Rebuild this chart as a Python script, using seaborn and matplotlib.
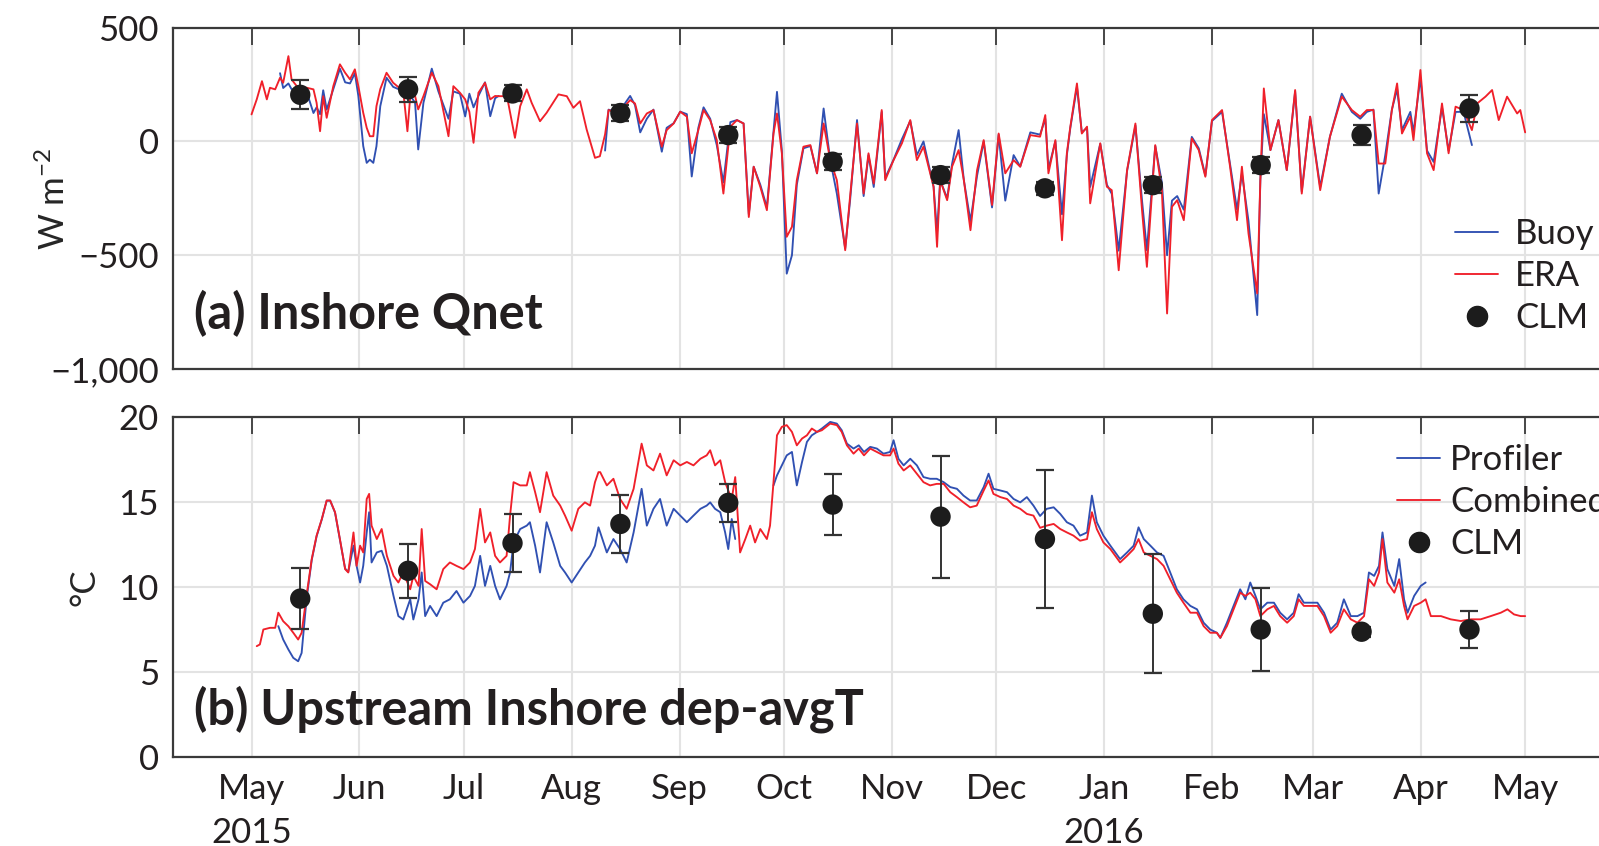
import numpy as np
import pandas as pd
import matplotlib
matplotlib.use("Agg")
import matplotlib.pyplot as plt
from matplotlib.lines import Line2D
import seaborn as sns

# ------------------------------------------------------------------ data
origin = pd.Timestamp("2015-05-01")

# (a) net surface heat flux, days since 2015-05-01
qnet_day = [0, 1.5, 3, 4.4, 5.3, 6.8, 8.2, 9.1, 10.6, 11.5, 13, 15.9, 17.8, 18.7, 19.7, 20.6, 21.6,
            23.5, 25.4, 26.9, 28.3, 29.7, 30.7, 32.1, 33.1, 34, 35, 35.9, 37, 38.8, 40.7, 43.6, 44.8,
            45.7, 47.0, 47.9, 49.4, 51.8, 53.7, 56.6, 58, 59.9, 61.4, 62.6, 63.8, 65.2, 67.1, 68.6,
            70, 71, 72, 73.4, 75.7, 77.2, 79.1, 80.5, 82.9, 84.8, 88.2, 90.6, 92.5, 94.4, 96.3, 98.7,
            100.1, 101.6, 102.6, 105.4, 108.8, 110.2, 111.7, 113.6, 115.5, 117.9, 119.3, 121.3,
            123.2, 125.1, 126.5, 128.4, 129.9, 131.8, 133.7, 135.6, 137.6, 139.5, 141.4, 142.9,
            144.3, 146.2, 148.1, 150.0, 151.0, 152.4, 153.8, 155.3, 156.7, 158.6, 160.6, 162.5,
            164.4, 166.3, 168.2, 170.6, 172.0, 174.0, 175.9, 177.3, 178.8, 181.1, 182.1, 184.5,
            186.9, 189.3, 191.2, 193.1, 196.0, 197.0, 197.9, 199.9, 201.3, 203.2, 204.7, 206.6,
            208.5, 210.4, 212.8, 214.7, 216.6, 219.0, 220.9, 223.8, 226.6, 228.1, 229.0, 231.0,
            232.9, 234.3, 235.3, 237.2, 238.6, 240.1, 241.0, 243.9, 245.8, 247.2, 249.2, 251.6,
            254.0, 255.9, 257.3, 259.7, 261.6, 263.1, 264.5, 266.0, 267.9, 270.2, 272.2, 274.1,
            276.0, 278.9, 281.2, 283.2, 284.6, 286.5, 289.0, 289.9, 290.9, 292.8, 295.1, 297.5,
            299.9, 301.8, 304.2, 307.1, 309.9, 313.3, 316.2, 318.6, 320.5, 322.4, 323.9, 325.8,
            327.7, 329.2, 330.6, 333.0, 333.9, 335.9, 337.8, 339.7, 342.1, 344.0, 346.0, 348.3,
            350.7, 352.2, 354.6, 356.5, 358.4, 360.8, 363.7, 364.6, 366]
qnet_era = [119, 185, 265, 185, 236, 229, 280, 258, 375, 273, 243, 236, 229, 170, 45, 199, 104,
            243, 339, 302, 273, 317, 243, 126, 60, 23, 23, 155, 230, 302, 258, 221, 45,
            214, 200, 141, 199, 302, 243, 23, 243, 214, 185, 130, -6, 214, 258, 185,
            200, 199, 199, 199, 16, 155, 229, 170, 89, 126, 207, 199, 148, 177, 53, -72,
            -65, 31, 138, 123, 182, 167, 79, 123, 138, -23, 50, 79,
            131, 109, -52, 50, 138, 94, 6, -229, 65, 94, 79, -332,
            -111, -199, -302, 35, 123, -52, -419, -375, -170, -23, -16, -140,
            79, -82, -170, -478, -243, 79, -229, -52, -185, 138, -170, -82,
            -8, 94, -82, -23, -199, -463, -170, -258, -111, -38, -170, -390,
            -126, 6, -279, 35, -140, -82, -111, 28, 21, 116, -140, 6,
            -434, -52, 65, 255, 35, 65, -272, -8, -199, -214, -566, -126,
            79, -302, -551, -16, -214, -756, -287, -258, -346, 13, -38, -155,
            94, 138, -111, -346, -111, -405, -668, -170, 233, -38, 94, -126,
            226, -229, 109, -214, 21, 197, 138, 109, 138, 138, -97, -97,
            138, 255, 35, 109, 6, 314, -52, -126, 167, -52, 153, 138,
            50, 167, 197, 226, 94, 197, 123, 138, 40]
nan = np.nan
qnet_buoy = [nan, nan, nan, nan, nan, nan, 300, 235, 255, 230, 225, 215, 125, 150, 120, 225, 140,
             230, 320, 260, 255, 300, 200, -20, -94, -80, -94, -21, 155, 280, 240, 221, 215,
             200, 170, -35, 170, 320, 220, 100, 220, 210, 110, 210, 150, 200, 260, 111,
             190, 200, nan, nan, nan, nan, nan, nan, nan, nan, nan, nan, nan, nan, nan, nan,
             nan, -40, 140, 125, 200, 160, 40, 100, 140, -45, 60, 80,
             131, 120, -154, 60, 150, 100, -16, -180, 85, 94, 79, -320,
             -111, -190, -290, 40, 218, -40, -581, -500, -190, -30, -20, -140,
             145, -82, -229, -470, -260, 94, -240, -60, -200, 130, -160, -80,
             10, 90, -60, 0, -199, -400, -170, -250, -100, 50, -170, -350,
             -150, 0, -290, 30, -260, -60, -110, 40, 30, 100, -120, 0,
             -320, -60, 60, 240, 40, 60, -200, -10, -190, -230, -480, -130,
             70, -260, -478, -20, -180, -500, -260, -240, -300, 20, -30, -150,
             90, 130, -100, -300, -140, -350, -763, -170, 120, -38, 94, -126,
             220, -220, 109, -200, 21, 210, 130, 100, 130, 140, -229, -60,
             140, 230, 50, 130, 40, 280, -40, -90, 150, -40, 130, 130,
             -16, nan, nan, nan, nan, nan, nan, nan, nan]

# (b) depth-averaged temperature, days since 2015-05-01
temp_day = [1.5, 2.4, 3.4, 5.3, 6.8, 7.7, 9.1, 10.6, 12, 13.4, 14.4, 15.8, 17.3, 18.7, 20.2, 21.6,
            22.6, 24, 25.4, 26.9, 27.8, 29.3, 30.2, 31.2, 32.1, 33.1, 33.8, 34.5, 36, 37.4, 38.9,
            40.8, 42.2, 43.6, 45.6, 46.5, 48, 48.9, 49.9, 51.3, 53.2, 55.1, 57, 58.9, 60.9, 62.8,
            64.2, 65.7, 67.1, 68.6, 70, 71.4, 73.3, 74.3, 75.3, 77.2, 79.1, 80, 81.5, 82.9, 84.8,
            86.7, 88.7, 90.1, 92, 93.9, 95.8, 97.3, 98.7, 99.7,
            100.2, 102.1, 104.0, 105.9, 107.8, 109.8, 112.1, 113.6, 115.5, 117.4, 119.3, 121.3,
            123.2, 125.1, 127.0, 129.0, 130.8, 131.8, 133.2, 134.7, 136.1, 137.0, 138.0, 139.0,
            140.4, 141.9, 143.3, 144.7, 146.2, 148.1, 149.0, 150.0, 151.0, 152.4, 153.8, 155.3,
            156.7, 158.2, 159.6, 161.0, 162.5, 163.9, 166.3, 168.2, 169.6, 171.1, 173.0, 174.5,
            176.0, 177.8, 179.7, 181.6, 183.5, 184.5, 185.9, 187.4, 189.3, 191.2, 193.1, 195.0,
            196.9, 198.9, 200.8, 202.7, 204.6, 206.5, 208.4, 210.4, 211.8, 213.2, 215.2, 217.1,
            219.0, 220.9, 222.8, 224.7, 226.6,
            228.5, 230.5, 232.4, 234.3, 236.2, 238.1, 240.1, 241.5, 242.9, 244.8, 246.8, 249.6,
            251.6, 253.5, 254.9, 256.4, 258.3, 260.2, 262.1, 264.0, 265.9, 267.8, 269.8, 271.7,
            273.6, 275.5, 277.4, 278.4, 280.3, 282.2, 284.1, 285.6, 287.0, 288.5, 289.9, 291.9,
            293.8, 295.6, 297.6, 299.5, 300.9, 302.4, 304.3, 306.3, 308.2, 310.1, 312.0, 313.9,
            315.9, 317.8, 319.7, 321.1, 322.6, 324.0, 325.0, 326.4, 328.4, 329.8, 331.2, 332.2,
            334.1, 336.0, 337.4, 338.9, 341.8, 344.6, 347.5, 350.4, 353.2, 356.1, 359.0, 360.9,
            362.8, 364.7, 366]
temp_combined = [6.53, 6.63, 7.51, 7.61, 7.61, 8.5, 8.0, 7.7, 7.32, 6.92, 7.32, 9.49, 11.66, 13.04,
                 14.02, 15.11, 15.11, 14.42, 12.84, 11.07, 10.87, 13.23, 11.26, 12.45, 12.05, 15.2,
                 15.5, 13.63, 12.84, 13.43, 11.85, 10.67, 10.28, 10.87, 9.88, 10.67, 10.08, 13.43,
                 10.37, 10.18, 9.88, 11.07, 11.46, 11.26, 11.07, 11.46, 12.25, 14.62, 12.64, 13.23,
                 11.85, 11.46, 11.85, 14.22, 16.19, 16.0, 16.0, 16.78, 15.6, 14.42, 16.78, 15.4,
                 14.81, 14.22, 13.33, 14.62, 15.0, 14.81, 16.19, 16.78,
                 16.78, 16.0, 16.39, 15.2, 14.62, 15.8, 18.46, 17.18, 16.88, 17.87, 16.59, 17.48,
                 17.18, 17.38, 17.18, 17.57, 17.77, 18.07, 17.18, 17.48, 16.19, 15.7, 15.2, 16.49,
                 12.05, 12.84, 13.63, 12.64, 13.43, 12.84, 13.63, 16.19, 18.95, 19.45, 19.55, 19.15,
                 18.36, 18.76, 18.95, 19.35, 19.15, 19.25, 19.64, 19.55, 19.15, 18.36, 17.87, 18.17,
                 17.77, 18.17, 17.97, 17.77, 17.77, 18.17, 17.28, 16.88, 17.18, 16.69, 16.19, 16.0,
                 16.09, 16.09, 15.6, 15.31, 15.0, 14.71, 14.81, 15.7, 16.29, 15.5, 15.31, 15.2,
                 14.81, 14.62, 14.32, 14.22, 13.5,
                 13.63, 13.73, 13.43, 13.23, 13.04, 12.74, 12.84, 14.42, 13.43, 12.64, 12.25, 11.46,
                 11.85, 12.25, 12.84, 12.05, 11.85, 11.66, 11.26, 10.47, 9.68, 9.09, 8.5, 8.5,
                 7.71, 7.32, 7.32, 7.02, 7.71, 8.7, 9.68, 9.49, 9.68, 9.29, 8.3, 8.7,
                 8.9, 8.3, 7.91, 8.3, 9.29, 8.9, 8.9, 8.9, 8.3, 7.32, 7.71, 8.7,
                 8.11, 7.91, 8.3, 10.47, 10.08, 10.87, 12.84, 10.28, 9.68, 10.47, 8.9, 8.11,
                 8.9, 9.09, 9.29, 8.3, 8.3, 8.11, 8.01, 8.11, 8.11, 8.3, 8.5, 8.7,
                 8.4, 8.3, 8.3]
temp_profiler = [nan, nan, nan, nan, nan, 7.71, 6.92, 6.33, 5.84, 5.64, 6.13, 9.29, 11.6, 13.0,
                 14.0, 15.1, 15.1, 14.4, 12.8, 11.1, 10.9, 12.45, 11.26, 10.28, 11.26, 13.23,
                 14.42, 11.46, 12.05, 12.15, 11.26, 9.49, 8.3, 8.1, 9.29, 8.1, 9.29, 10.87,
                 8.3, 8.9, 8.3, 9.09, 9.29, 9.78, 9.09, 9.49, 10.08, 11.85, 10.08, 11.26,
                 10.08, 9.29, 10.08, 10.87, 12.64, 13.43, 13.63, 13.83, 12.45, 10.87, 13.83, 12.64,
                 11.26, 10.87, 10.28, 10.87, 11.46, 11.85, 12.45, 13.53,
                 13.23, 12.05, 12.84, 12.25, 11.46, 13.23, 15.8, 13.63, 14.62, 15.2, 13.63, 14.62,
                 14.22, 13.83, 14.22, 14.62, 14.81, 15.0, 14.62, 14.42, 13.23, 12.25, 14.02, 12.84,
                 nan, nan, nan, nan, nan, nan, nan, 16.0, 16.59, 17.18, 17.77, 17.97,
                 16.0, 17.38, 18.56, 18.95, 19.15, 19.35, 19.74, 19.64, 19.25, 18.46, 18.17, 18.36,
                 17.97, 18.27, 18.17, 17.87, 17.97, 18.66, 17.57, 17.18, 17.57, 17.18, 16.49, 16.39,
                 16.39, 16.19, 15.9, 15.8, 15.4, 15.11, 15.11, 15.9, 16.69, 15.8, 15.7, 15.6,
                 15.2, 15.0, 15.31, 14.81, 14.2,
                 14.62, 14.71, 14.32, 13.83, 13.63, 13.04, 13.23, 15.4, 13.83, 13.04, 12.45, 11.66,
                 12.05, 12.45, 13.53, 12.84, 12.45, 12.05, 11.85, 10.87, 9.88, 9.29, 8.9, 8.7,
                 7.91, 7.51, 7.32, 7.02, 7.91, 8.9, 9.88, 9.29, 10.28, 9.49, 8.7, 9.09,
                 9.09, 8.5, 8.11, 8.5, 9.59, 9.09, 9.09, 9.09, 8.5, 7.51, 7.91, 9.29,
                 8.3, 8.3, 8.5, 10.87, 10.67, 11.26, 13.23, 11.07, 10.08, 11.66, 9.29, 8.5,
                 9.49, 10.08, 10.28, nan, nan, nan, nan, nan, nan, nan, nan, nan,
                 nan, nan, nan]

# monthly climatology (CLM)
clm_dates = ["2015-05-15", "2015-06-15", "2015-07-15", "2015-08-15", "2015-09-15", "2015-10-15",
             "2015-11-15", "2015-12-15", "2016-01-15", "2016-02-15", "2016-03-15", "2016-04-15"]
clm_qnet = [205, 229, 211, 125, 28, -89, -148, -206, -192, -104, 28, 145]
clm_qnet_err = [63, 55, 35, 35, 35, 35, 35, 30, 35, 35, 45, 60]
clm_temp = [9.33, 10.97, 12.6, 13.73, 14.97, 14.87, 14.16, 12.84, 8.44, 7.51, 7.38, 7.51]
clm_temp_err = [1.8, 1.6, 1.7, 1.7, 1.1, 1.8, 3.6, 4.06, 3.5, 2.45, 0.3, 1.1]

month_ticks = pd.date_range("2015-05-01", "2016-05-01", freq="MS")
month_labels = ["May\n2015", "Jun", "Jul", "Aug", "Sep", "Oct", "Nov", "Dec",
                "Jan\n2016", "Feb", "Mar", "Apr", "May"]
qnet_ticks = [500, 0, -500, -1000]
qnet_ticklabels = ["500", "0", "\u2212500", "\u22121,000"]
temp_ticks = [0, 5, 10, 15, 20]

# ------------------------------------------------------------------ style
sns.set_style("white")
plt.rcParams["font.family"] = ["Lato", "DejaVu Sans"]
plt.rcParams["mathtext.fontset"] = "custom"
plt.rcParams["mathtext.rm"] = "Lato"
plt.rcParams["mathtext.it"] = "Lato:italic"
plt.rcParams["mathtext.bf"] = "Lato:bold"
plt.rcParams["text.color"] = "#231f20"

BLUE = "#3050b2"
RED = "#f0202a"
DOT = "#1c1c1c"
TICK_FS = 25
LW = 1.35


def series_frame(days, values):
    df = pd.DataFrame({"date": origin + pd.to_timedelta(days, unit="D"),
                       "value": np.asarray(values, dtype=float)})
    df["seg"] = df["value"].isna().cumsum()
    return df.dropna()


def draw_series(ax, days, values, color):
    sns.lineplot(data=series_frame(days, values), x="date", y="value", units="seg",
                 estimator=None, sort=False, color=color, lw=LW, ax=ax, legend=False, zorder=3)


def draw_clm(ax, values, errors):
    dates = pd.to_datetime(clm_dates)
    ax.errorbar(dates, values, yerr=errors, fmt="none", ecolor="#333333",
                elinewidth=1.4, capsize=6.5, capthick=1.6, zorder=4)
    sns.scatterplot(x=dates, y=values, color=DOT, s=215, edgecolor="none",
                    zorder=5, ax=ax, legend=False)


def style_axes(ax):
    ax.set_xlim(origin - pd.Timedelta(days=22.65), origin + pd.Timedelta(days=399))
    ax.set_xticks(month_ticks)
    ax.grid(True, color="#e3e3e3", lw=1.5)
    ax.set_axisbelow(True)
    for sp in ax.spines.values():
        sp.set_color("#3a3a3a")
        sp.set_linewidth(1.6)
    ax.tick_params(axis="both", direction="in", length=12, width=1.3, color="#3a3a3a",
                   top=True, right=True, labelsize=TICK_FS, labelcolor="#231f20")
    ax.tick_params(axis="y", pad=10)
    ax.tick_params(axis="x", pad=11.5)
    ax.set_xlabel("")


fig = plt.figure(figsize=(15.99, 8.46), dpi=100)
left = 172.7 / 1599
width = (1640 - 172.7) / 1599
ax_a = fig.add_axes([left, 1 - 369 / 846, width, 341.3 / 846])
ax_b = fig.add_axes([left, 1 - 757 / 846, width, 339.5 / 846])

# ------------------------------------------------------------------ (a)
draw_series(ax_a, qnet_day, qnet_buoy, BLUE)
draw_series(ax_a, qnet_day, qnet_era, RED)
draw_clm(ax_a, clm_qnet, clm_qnet_err)
style_axes(ax_a)
ax_a.set_ylim(-1000, 500)
ax_a.set_yticks(qnet_ticks, qnet_ticklabels)
ax_a.tick_params(axis="x", labelbottom=False)
ax_a.set_ylabel("W m$^{-2}$", fontsize=TICK_FS, va="center")
ax_a.yaxis.set_label_coords((54 - 172.7) / 1467.3, 0.5)
ax_a.text(0.0145, 0.118, "(a) Inshore Qnet", transform=ax_a.transAxes,
          fontsize=35, fontweight="bold", ha="left", va="baseline")

handles_a = [Line2D([], [], color=BLUE, lw=LW), Line2D([], [], color=RED, lw=LW),
             Line2D([], [], ls="none", marker="o", markersize=14.5, color=DOT)]
ax_a.legend(handles_a, ["Buoy", "ERA", "CLM"], loc="center left",
            bbox_to_anchor=((1455 - 172.7) / 1467.3, (369 - 276) / 341.3),
            frameon=False, fontsize=TICK_FS, borderpad=0, borderaxespad=0,
            handlelength=1.24, handletextpad=0.49, labelspacing=0.29)

# ------------------------------------------------------------------ (b)
draw_series(ax_b, temp_day, temp_profiler, BLUE)
draw_series(ax_b, temp_day, temp_combined, RED)
draw_clm(ax_b, clm_temp, clm_temp_err)
style_axes(ax_b)
ax_b.set_ylim(0, 20)
ax_b.set_yticks(temp_ticks, [str(t) for t in temp_ticks])
ax_b.set_xticklabels(month_labels)
for lbl in ax_b.get_xticklabels():
    lbl.set_linespacing(1.45)
ax_b.set_ylabel("\u00b0C", fontsize=TICK_FS, va="center")
ax_b.yaxis.set_label_coords((84 - 172.7) / 1467.3, 0.5)
ax_b.text(0.0145, 0.097, "(b) Upstream Inshore dep-avgT", transform=ax_b.transAxes,
          fontsize=35, fontweight="bold", ha="left", va="baseline")

handles_b = [Line2D([], [], color=BLUE, lw=LW), Line2D([], [], color=RED, lw=LW),
             Line2D([], [], ls="none", marker="o", markersize=14.5, color=DOT)]
ax_b.legend(handles_b, ["Profiler", "Combined", "CLM"], loc="center left",
            bbox_to_anchor=((1397 - 172.7) / 1467.3, (757 - 502) / 339.5),
            frameon=False, fontsize=TICK_FS, borderpad=0, borderaxespad=0,
            handlelength=1.24, handletextpad=0.29, labelspacing=0.29)

fig.savefig("out.png", dpi=100)
